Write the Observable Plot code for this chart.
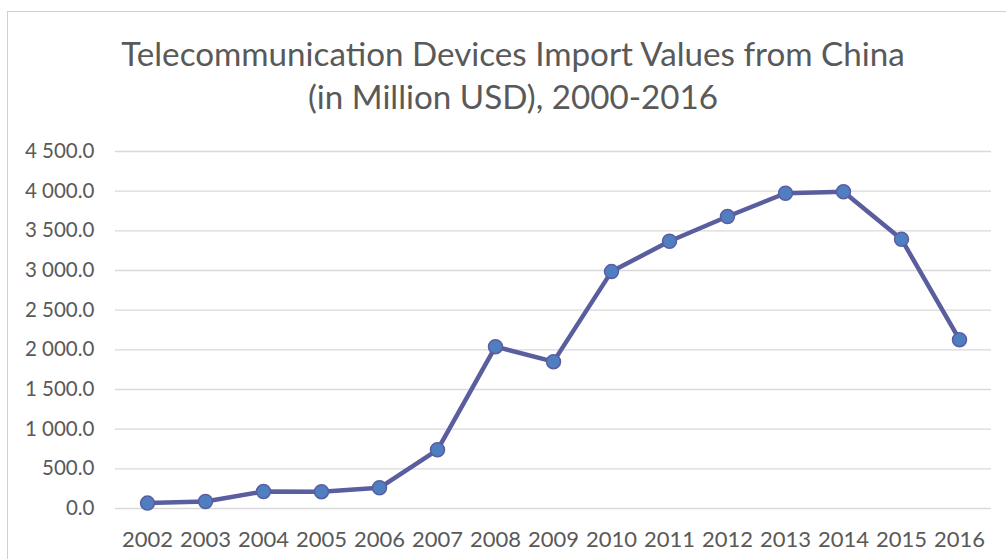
<!DOCTYPE html>
<html>
<head>
<meta charset="utf-8">
<script src="https://cdn.jsdelivr.net/npm/d3@7"></script>
<script src="https://cdn.jsdelivr.net/npm/@observablehq/plot@0.6"></script>
<style>
  html, body { margin: 0; padding: 0; background: #fff; }
  #wrap { position: relative; width: 1006px; height: 559px; overflow: hidden; font-family: Lato, sans-serif; }
  #border { position: absolute; left: 7px; top: 11px; width: 1100px; height: 700px; border-top: 1.5px solid #d0d0d0; border-left: 1.5px solid #d0d0d0; }
  #title { position: absolute; left: 0; top: 32px; width: 1026px; text-align: center; color: #595959; font-size: 33.2px; line-height: 43px; }
  #chart { position: absolute; left: 0; top: 130px; }
</style>
</head>
<body>
<div id="wrap">
  <div id="border"></div>
  <div id="title">Telecommunication Devices Import Values from China<br>(in Million USD), 2000-2016</div>
  <div id="chart"></div>
</div>
<script>
const years = ["2002","2003","2004","2005","2006","2007","2008","2009","2010","2011","2012","2013","2014","2015","2016"];
const values = [68, 88, 214, 212, 261, 740, 2040, 1851, 2986, 3369, 3680, 3974, 3992, 3394, 2128];
const yTicks = [0, 500, 1000, 1500, 2000, 2500, 3000, 3500, 4000, 4500];

const data = years.map((y, i) => ({year: y, value: values[i]}));
const fmt = v => d3.format(",.1f")(v).replace(/,/g, " ");

const chart = Plot.plot({
  width: 1006,
  height: 429,
  marginLeft: 115,
  marginRight: 15,
  marginTop: 21,
  marginBottom: 51,
  style: {fontFamily: "Lato, sans-serif", fontSize: "21px", color: "#595959", background: "transparent"},
  x: {type: "point", domain: years, padding: 0.5, label: null},
  y: {domain: [0, 4500], label: null},
  marks: [
    Plot.ruleY(yTicks, {stroke: "#d9d9d9", strokeWidth: 1.3}),
    Plot.axisY(yTicks, {tickSize: 0, tickPadding: 21, tickFormat: fmt, fill: "#595959", fontSize: 20.5}),
    Plot.axisX({tickSize: 0, tickPadding: 23, fill: "#595959", fontSize: 22}),
    Plot.line(data, {x: "year", y: "value", stroke: "#5b5e9e", strokeWidth: 4.5}),
    Plot.dot(data, {x: "year", y: "value", r: 7, fill: "#4f7fc0", stroke: "#5b5e9e", strokeWidth: 1.5})
  ]
});
document.getElementById("chart").appendChild(chart);
</script>
</body>
</html>
